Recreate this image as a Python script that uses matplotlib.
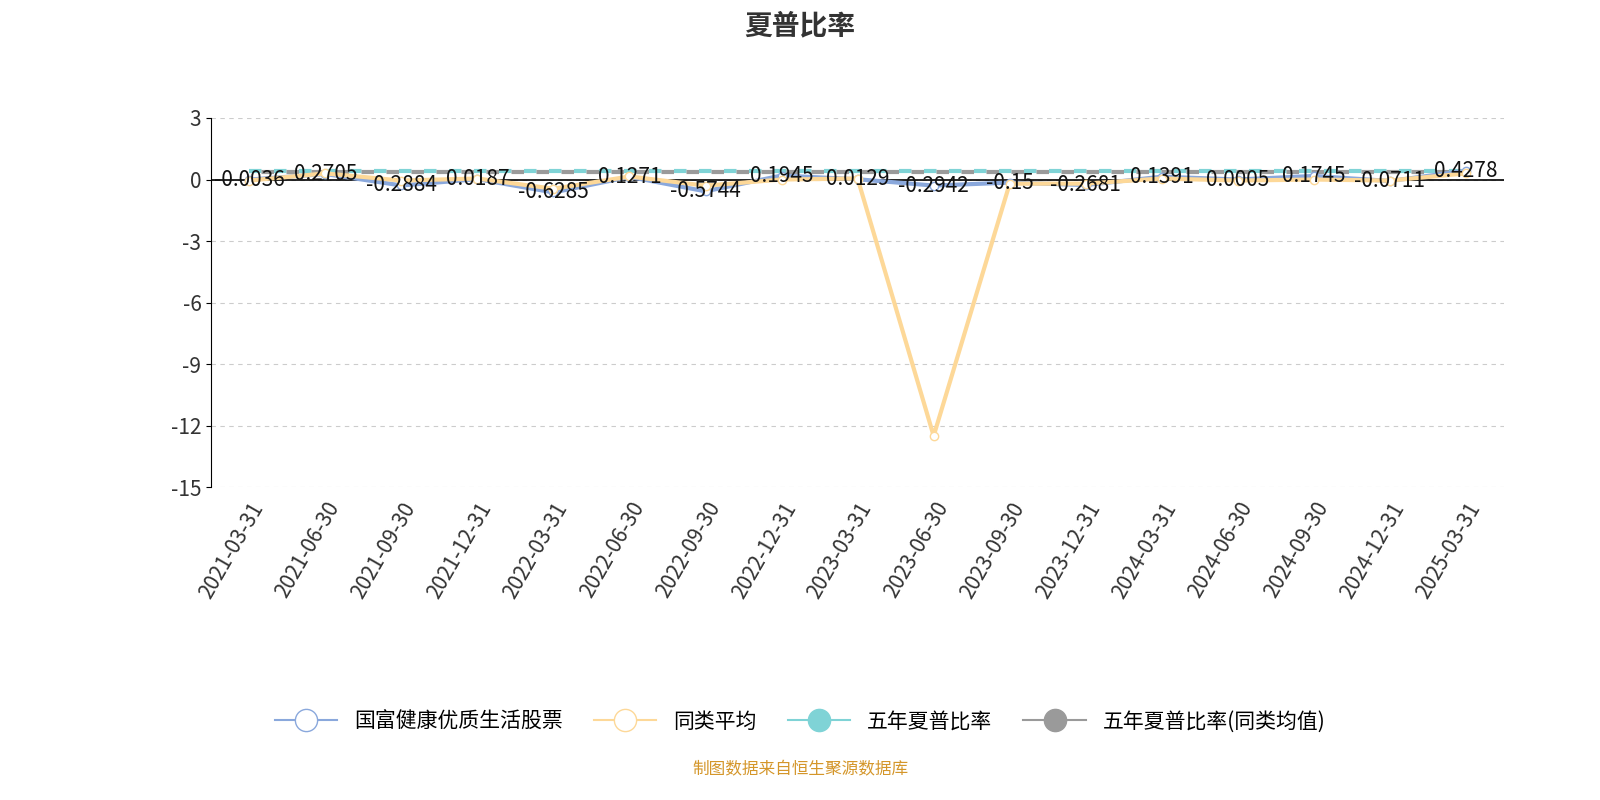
import matplotlib.pyplot as plt
import numpy as np

plt.rcParams['font.family'] = ['Noto Sans CJK SC', 'DejaVu Sans']
plt.rcParams['axes.unicode_minus'] = False

dates = ['2021-03-31', '2021-06-30', '2021-09-30', '2021-12-31', '2022-03-31', '2022-06-30',
         '2022-09-30', '2022-12-31', '2023-03-31', '2023-06-30', '2023-09-30', '2023-12-31',
         '2024-03-31', '2024-06-30', '2024-09-30', '2024-12-31', '2025-03-31']
fund = [-0.0036, 0.2705, -0.2884, 0.0187, -0.6285, 0.1271, -0.5744, 0.1945, 0.0129,
        -0.2942, -0.15, -0.2681, 0.1391, 0.0005, 0.1745, -0.0711, 0.4278]
peer_avg = [-0.05, 0.3, -0.05, 0.05, -0.45, 0.15, -0.3, 0.0, 0.05,
            -12.5, -0.2, -0.2, 0.05, -0.05, 0.0, -0.05, 0.3]
five_year = [0.42] * len(dates)
five_year_peer = [0.36] * len(dates)

fig = plt.figure(figsize=(16, 8), dpi=100)
ax = fig.add_axes([0.132, 0.391, 0.808, 0.4615])
x = np.arange(len(dates))

ax.axhline(0, color='black', lw=1.2, zorder=1)
ax.plot(x, five_year, color='#7fd3d6', lw=3, ls=(0, (3, 3)), zorder=2)
ax.plot(x, five_year_peer, color='#9a9a9a', lw=3, ls=(3, (3, 3)), zorder=2)
ax.plot(x, fund, color='#8aa8dc', lw=3, marker='o', ms=6, mfc='white', mec='#8aa8dc', zorder=3)
ax.plot(x, peer_avg, color='#fdd898', lw=3, marker='o', ms=6, mfc='white', mec='#fdd898', zorder=4)

for xi, v in zip(x, fund):
    ax.text(xi, v, f'{v:g}', ha='center', va='center', fontsize=15, color='#111', zorder=5)

ax.set_xlim(-0.5, len(dates) - 0.5)
ax.set_ylim(-15, 3)
ax.set_yticks([3, 0, -3, -6, -9, -12, -15])
ax.set_xticks(x)
ax.tick_params(axis='x', length=0, pad=8)
ax.set_xticklabels(dates)
plt.setp(ax.get_xticklabels(), rotation=60, ha='right', rotation_mode='anchor',
         fontsize=15, color='#333')
ax.tick_params(axis='y', labelsize=15, labelcolor='#333')
ax.grid(axis='y', ls=(0, (4, 4)), color='#cccccc')
ax.set_axisbelow(True)
for s in ['top', 'right', 'bottom']:
    ax.spines[s].set_visible(False)

fig.suptitle('夏普比率', y=0.985, fontsize=20, fontweight='bold', color='#333')

handles = [
    plt.Line2D([], [], color='#8aa8dc', marker='o', ms=16, mfc='white', lw=1.5),
    plt.Line2D([], [], color='#fdd898', marker='o', ms=16, mfc='white', lw=1.5),
    plt.Line2D([], [], color='#7fd3d6', marker='o', ms=16, mfc='#7fd3d6', lw=1.5),
    plt.Line2D([], [], color='#9a9a9a', marker='o', ms=16, mfc='#9a9a9a', lw=1.5),
]
fig.legend(handles, ['国富健康优质生活股票', '同类平均', '五年夏普比率', '五年夏普比率(同类均值)'],
           loc='center', bbox_to_anchor=(0.5, 0.098), ncol=4, frameon=False, fontsize=15,
           handlelength=3, columnspacing=1.5)
fig.text(0.5, 0.032, '制图数据来自恒生聚源数据库', ha='center', fontsize=12, color='#d4962a')

fig.savefig('out.png')
